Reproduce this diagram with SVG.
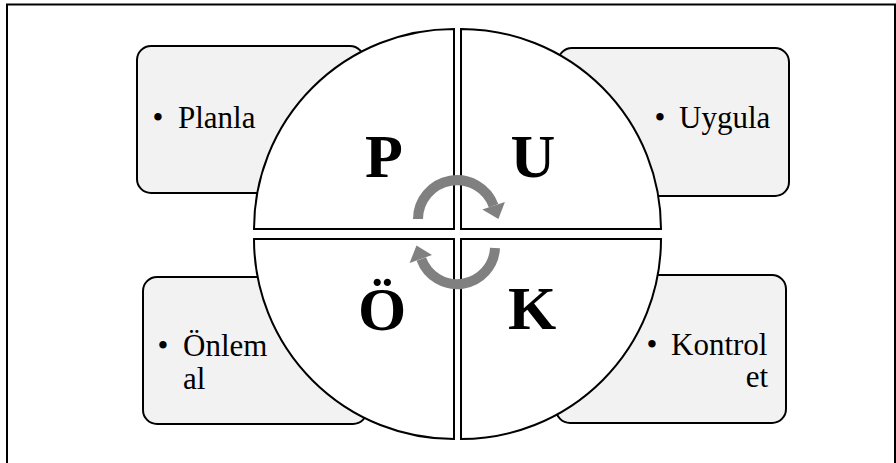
<svg xmlns="http://www.w3.org/2000/svg" width="896" height="463" viewBox="0 0 896 463">
<style>
.frame{fill:#ffffff;stroke:#000;stroke-width:2}
.box{fill:#f2f2f2;stroke:#000;stroke-width:2}
.quad{fill:#ffffff;stroke:#000;stroke-width:2;stroke-linejoin:miter}
.lbl{font-family:"Liberation Serif","Times New Roman",serif;font-size:31px;fill:#000}
.big{font-family:"Liberation Serif","Times New Roman",serif;font-size:62px;font-weight:bold;fill:#000;text-anchor:middle}
.arc{fill:none;stroke:#808080;stroke-width:10}
.head{fill:#808080}
</style>
<rect class="frame" x="7" y="4.5" width="888" height="470"/>
<g id="box-planla">
<rect class="box" x="137" y="46" width="227" height="147" rx="14"/>
<text class="lbl" x="152.6" y="128">•</text>
<text class="lbl" x="178" y="128">Planla</text>
</g>
<g id="box-uygula">
<rect class="box" x="558" y="48" width="231" height="148" rx="14"/>
<text class="lbl" x="654.6" y="128">•</text>
<text class="lbl" x="679" y="128">Uygula</text>
</g>
<g id="box-onlem">
<rect class="box" x="143" y="277" width="224" height="147" rx="14"/>
<text class="lbl" x="157.6" y="356">•</text>
<text class="lbl" x="183" y="356">Önlem</text>
<text class="lbl" x="183" y="389">al</text>
</g>
<g id="box-kontrol">
<rect class="box" x="556" y="275" width="230" height="148" rx="14"/>
<text class="lbl" x="646.6" y="355">•</text>
<text class="lbl" x="671" y="355">Kontrol</text>
<text class="lbl" x="768" y="387" text-anchor="end">et</text>
</g>
<g id="quad-p">
<path class="quad" d="M454,229 L254,229 A200,200 0 0 1 454,29 Z"/>
<text class="big" x="384" y="177">P</text>
</g>
<g id="quad-u">
<path class="quad" d="M461,229 L461,29 A200,200 0 0 1 661,229 Z"/>
<text class="big" x="533" y="177">U</text>
</g>
<g id="quad-o">
<path class="quad" d="M454,239 L454,439 A200,200 0 0 1 254,239 Z"/>
<text class="big" x="382" y="330">Ö</text>
</g>
<g id="quad-k">
<path class="quad" d="M461,239 L661,239 A200,200 0 0 1 461,439 Z"/>
<text class="big" x="532" y="329">K</text>
</g>
<g id="connectors">
<path class="arc" d="M418,219 A39,39 0 0 1 493.6,205.7"/>
<polygon class="head" points="498.4,218.9 504.9,202 482.3,209.5"/>
<path class="arc" d="M495,248 A38,38 0 0 1 421.3,259"/>
<polygon class="head" points="416.5,245.6 409.6,263 432,255"/>
</g>
</svg>
